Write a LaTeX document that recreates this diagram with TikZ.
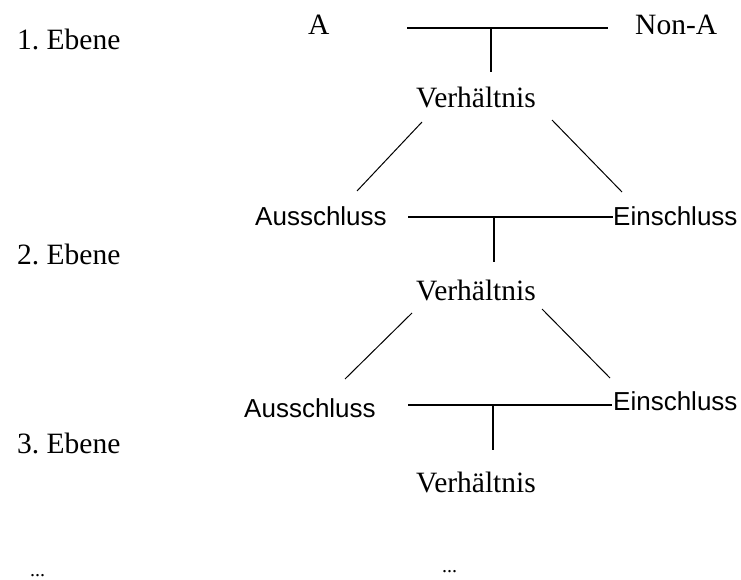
\documentclass[tikz,border=0pt]{standalone}
\usepackage{fontspec}
\setmainfont{Liberation Serif}
\newfontfamily\sansf{Liberation Sans}
\frenchspacing
\begin{document}
\begin{tikzpicture}[x=1pt,y=-1pt,
  serif/.style={inner sep=0pt,anchor=base west,font=\fontsize{29.5}{31}\selectfont},
  sanslbl/.style={inner sep=0pt,anchor=base west,font=\sansf\fontsize{26}{28}\selectfont},
  dotslbl/.style={inner sep=0pt,anchor=base west,font=\fontsize{20}{22}\selectfont},
  bar/.style={line width=1.5pt},
  diag/.style={line width=1pt}]
\useasboundingbox[fill=white] (0,0) rectangle (741,580);
% labels
\node[serif] (A) at (308,35) {A};
\node[serif] (NonA) at (635,35) {Non-A};
\node[serif] (E1) at (17,50) {1. Ebene};
\node[serif] (V1) at (416,108) {Verhältnis};
\node[sanslbl] (Aus2) at (255,225) {Ausschluss};
\node[sanslbl] (Ein2) at (613,225) {Einschluss};
\node[serif] (E2) at (17,264) {2. Ebene};
\node[serif] (V2) at (416,300) {Verhältnis};
\node[sanslbl] (Aus3) at (244,417) {Ausschluss};
\node[sanslbl] (Ein3) at (613,410) {Einschluss};
\node[serif] (E3) at (17,453) {3. Ebene};
\node[serif] (V3) at (416,492) {Verhältnis};
\node[dotslbl] (D1) at (30,576) {...};
\node[dotslbl] (D2) at (442,572) {...};
% level 1 connector ends
\coordinate (b1l) at (407,28);
\coordinate (b1r) at (608,28);
\coordinate (j1) at (491,28);
\coordinate (j1e) at (491,72);
\coordinate (d1la) at (422,122);
\coordinate (d1lb) at (357,191);
\coordinate (d1ra) at (552,120);
\coordinate (d1rb) at (622,192);
% level 2
\coordinate (b2l) at (408,217);
\coordinate (b2r) at (613,217);
\coordinate (j2) at (494,217);
\coordinate (j2e) at (494,262);
\coordinate (d2la) at (412,313);
\coordinate (d2lb) at (345,379);
\coordinate (d2ra) at (542,309);
\coordinate (d2rb) at (610,378);
% level 3
\coordinate (b3l) at (408,405);
\coordinate (b3r) at (612,405);
\coordinate (j3) at (493,405);
\coordinate (j3e) at (493,450);
% lines
\draw[bar] (b1l) -- (b1r);
\draw[bar] (j1) -- (j1e);
\draw[diag] (d1la) -- (d1lb);
\draw[diag] (d1ra) -- (d1rb);
\draw[bar] (b2l) -- (b2r);
\draw[bar] (j2) -- (j2e);
\draw[diag] (d2la) -- (d2lb);
\draw[diag] (d2ra) -- (d2rb);
\draw[bar] (b3l) -- (b3r);
\draw[bar] (j3) -- (j3e);
\end{tikzpicture}
\end{document}
